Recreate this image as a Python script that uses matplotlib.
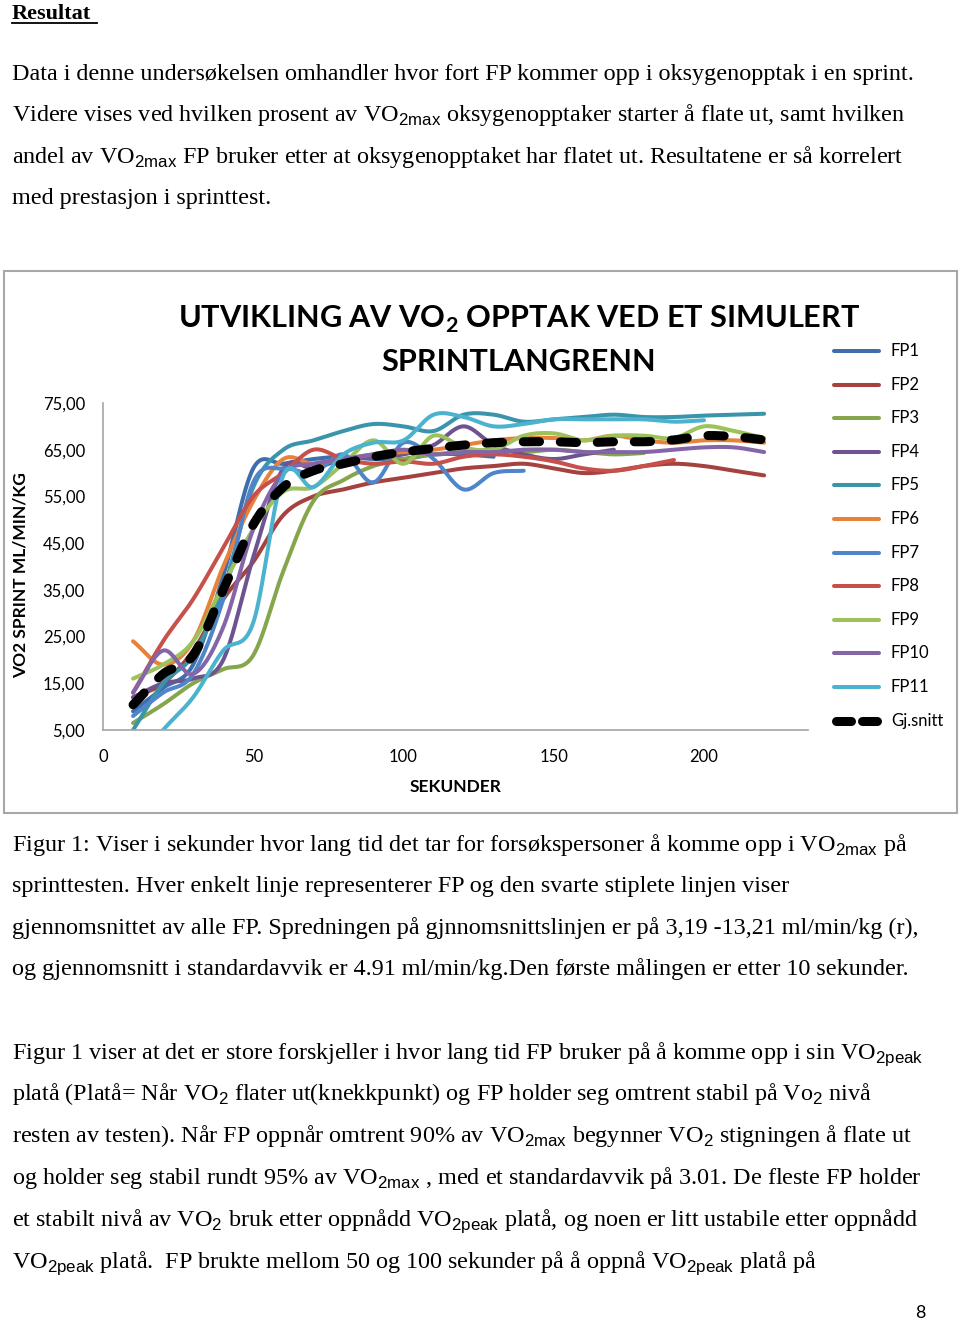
import numpy as np
import matplotlib
matplotlib.use("Agg")
import matplotlib.pyplot as plt
from matplotlib.lines import Line2D
from matplotlib.patches import Rectangle

plt.rcParams['mathtext.fontset'] = 'custom'
plt.rcParams['mathtext.rm'] = 'Liberation Sans'
plt.rcParams['mathtext.bf'] = 'Lato:bold'

# ---------------- data ----------------
labels = ["FP1", "FP2", "FP3", "FP4", "FP5", "FP6", "FP7", "FP8", "FP9", "FP10", "FP11"]
t_fp1 = [10, 20, 30, 40, 50, 60, 70, 80, 90, 100, 110, 120, 130]
fp1 = [9, 14, 19, 38, 61, 62, 63, 63.5, 63, 63, 64, 64, 63.5]
t_fp2 = [10, 20, 30, 40, 50, 60, 70, 80, 90, 100, 110, 120, 130, 140, 150, 160, 170, 180, 190, 200, 210, 220]
fp2 = [12, 15, 22, 33, 41, 51, 55, 56.5, 58, 59, 60, 61, 61.5, 62, 61, 60, 60.5, 61.5, 62, 61.5, 60.5, 59.5]
t_fp3 = [10, 20, 30, 40, 50, 60, 70, 80, 90, 100, 110, 120, 130, 140, 150, 160, 170, 180]
fp3 = [6.5, 10.5, 15, 18, 21, 39, 54, 58.5, 61.5, 63, 64, 64.5, 65, 64.5, 65, 64.5, 64, 64.3]
t_fp4 = [10, 20, 30, 40, 50, 60, 70, 80, 90, 100, 110, 120, 130, 140, 150, 160, 170]
fp4 = [12, 15, 16, 20, 42, 61, 61, 63, 63.5, 64, 66, 70, 66, 64, 63, 64, 65]
t_fp5 = [10, 20, 30, 40, 50, 60, 70, 80, 90, 100, 110, 120, 130, 140, 150, 160, 170, 180, 190, 200, 210, 220]
fp5 = [5, 15, 21, 35, 57, 65, 67, 69, 70.5, 70, 69, 72.5, 72.5, 71, 71.5, 72, 72.5, 72, 72, 72.3, 72.5, 72.7]
t_fp6 = [10, 20, 30, 40, 50, 60, 70, 80, 90, 100, 110, 120, 130, 140, 150, 160, 170, 180, 190, 200, 210, 220]
fp6 = [24, 19, 24, 40, 54, 63, 62, 63, 64, 64.5, 65, 66, 67, 67.5, 67.5, 67, 68, 67, 66.5, 67, 67, 66.5]
t_fp7 = [10, 20, 30, 40, 50, 60, 70, 80, 90, 100, 110, 120, 130, 140]
fp7 = [8, 13, 17, 33, 58, 61, 60, 64, 58, 66.5, 63, 56.5, 60, 60.5]
t_fp8 = [10, 20, 30, 40, 50, 60, 70, 80, 90, 100, 110, 120, 130, 140, 150, 160, 170, 180, 190]
fp8 = [13, 24, 33, 44, 55, 60, 65, 63, 62, 62.5, 62, 63.5, 64, 63.5, 62.5, 61, 60.5, 61.5, 62.8]
t_fp9 = [10, 20, 30, 40, 50, 60, 70, 80, 90, 100, 110, 120, 130, 140, 150, 160, 170, 180, 190, 200, 210, 220]
fp9 = [16, 19, 24, 36, 48, 56, 57, 62, 67, 62, 68, 65.5, 65, 68, 68.5, 67, 68, 68, 67.5, 70, 69, 67.5]
t_fp10 = [10, 20, 30, 40, 50, 60, 70, 80, 90, 100, 110, 120, 130, 140, 150, 160, 170, 180, 190, 200, 210, 220]
fp10 = [13, 22, 17, 27, 48, 60, 62, 63, 64, 65, 64, 64.5, 64.5, 65, 65, 64.5, 64.5, 64.5, 65, 65.5, 65.5, 64.5]
t_fp11 = [10, 20, 30, 40, 50, 60, 70, 80, 90, 100, 110, 120, 130, 140, 150, 160, 170, 180, 190, 200]
fp11 = [-3, 5, 12, 22, 28, 59.5, 57, 64, 66.5, 67, 72.5, 72, 70, 70.5, 71.5, 71.5, 71.5, 71.5, 71, 71.3]
t_mean = [10, 20, 30, 40, 50, 60, 70, 80, 90, 100, 110, 120, 130, 140, 150, 160, 170, 180, 190, 200, 210, 220]
mean = [10.4, 17, 21, 35, 49, 57, 60.5, 62, 63.5, 64.5, 65.3, 66, 66.5, 66.7, 66.7, 66.5, 66.7, 66.7, 67.1, 68, 67.8, 67.1]

series_t = [t_fp1, t_fp2, t_fp3, t_fp4, t_fp5, t_fp6, t_fp7, t_fp8, t_fp9, t_fp10, t_fp11]
series_y = [fp1, fp2, fp3, fp4, fp5, fp6, fp7, fp8, fp9, fp10, fp11]
colors = ['#3F6EAD', '#A5423F', '#86A64D', '#6D5490', '#3A95AB', '#E8813A',
          '#4F86C9', '#C8504B', '#9DC15B', '#8466A8', '#4BB3CF']
yticks = [5, 15, 25, 35, 45, 55, 65, 75]
xticks = [0, 50, 100, 150, 200]


def smooth(x, y, n=24):
    p = np.column_stack([np.asarray(x, float), np.asarray(y, float)])
    if len(p) < 3:
        return p[:, 0], p[:, 1]
    ext = np.vstack([2 * p[0] - p[1], p, 2 * p[-1] - p[-2]])
    out = []
    s = np.linspace(0, 1, n, endpoint=False)[:, None]
    for i in range(1, len(ext) - 2):
        p0, p1, p2, p3 = ext[i - 1], ext[i], ext[i + 1], ext[i + 2]
        seg = 0.5 * ((2 * p1) + (-p0 + p2) * s + (2 * p0 - 5 * p1 + 4 * p2 - p3) * s ** 2
                     + (-p0 + 3 * p1 - 3 * p2 + p3) * s ** 3)
        out.append(seg)
    out.append(p[-1][None, :])
    out = np.vstack(out)
    return out[:, 0], out[:, 1]


W, H = 960, 1324
fig = plt.figure(figsize=(W / 100, H / 100), dpi=100)
fig.patch.set_facecolor('white')


def fx(px):
    return px / W


def fy(py):
    return 1 - py / H


# ---------------- text above ----------------
serif = 'Liberation Serif'
t_res = fig.text(fx(12), fy(19), "Resultat", family=serif, fontsize=16, fontweight='bold', va='baseline')
fig.add_artist(Line2D([fx(12), fx(97)], [fy(23), fy(23)], color='black', lw=1.3))

top_lines = [
    "Data i denne undersøkelsen omhandler hvor fort FP kommer opp i oksygenopptak i en sprint.",
    r"Videre vises ved hvilken prosent av VO$_{\mathrm{2max}}$ oksygenopptaker starter å flate ut, samt hvilken",
    r"andel av VO$_{\mathrm{2max}}$ FP bruker etter at oksygenopptaket har flatet ut. Resultatene er så korrelert",
    "med prestasjon i sprinttest.",
]
top_base = [80, 121, 163, 204]

cap_lines = [
    r"Figur 1: Viser i sekunder hvor lang tid det tar for forsøkspersoner å komme opp i VO$_{\mathrm{2max}}$ på",
    "sprinttesten. Hver enkelt linje representerer FP og den svarte stiplete linjen viser",
    "gjennomsnittet av alle FP. Spredningen på gjnnomsnittslinjen er på 3,19 -13,21 ml/min/kg (r),",
    "og gjennomsnitt i standardavvik er 4.91 ml/min/kg.Den første målingen er etter 10 sekunder.",
]
cap_base = [851, 892, 934, 975]

body_lines = [
    r"Figur 1 viser at det er store forskjeller i hvor lang tid FP bruker på å komme opp i sin VO$_{\mathrm{2peak}}$",
    r"platå (Platå= Når VO$_{\mathrm{2}}$ flater ut(knekkpunkt) og FP holder seg omtrent stabil på Vo$_{\mathrm{2}}$ nivå",
    r"resten av testen). Når FP oppnår omtrent 90% av VO$_{\mathrm{2max}}$ begynner VO$_{\mathrm{2}}$ stigningen å flate ut",
    r"og holder seg stabil rundt 95% av VO$_{\mathrm{2max}}$ , med et standardavvik på 3.01. De fleste FP holder",
    r"et stabilt nivå av VO$_{\mathrm{2}}$ bruk etter oppnådd VO$_{\mathrm{2peak}}$ platå, og noen er litt ustabile etter oppnådd",
    r"VO$_{\mathrm{2peak}}$ platå.  FP brukte mellom 50 og 100 sekunder på å oppnå VO$_{\mathrm{2peak}}$ platå på",
]
body_base = [1059, 1100, 1142, 1184, 1226, 1268]

renderer = fig.canvas.get_renderer()
probe = fig.text(fx(12), fy(80), top_lines[0], family=serif, fontsize=16, va='baseline')
wprobe = probe.get_window_extent(renderer).width
body_fs = 16 * 901 / wprobe
probe.remove()

for lines, bases in [(top_lines, top_base), (cap_lines, cap_base), (body_lines, body_base)]:
    for s, b in zip(lines, bases):
        fig.text(fx(12), fy(b), s, family=serif, fontsize=body_fs, va='baseline')

fig.text(fx(920), fy(1313), "8", family='Lato', fontsize=13, ha='center', va='center')

# ---------------- chart frame ----------------
fig.add_artist(Rectangle((fx(4), fy(813)), fx(957) - fx(4), fy(271) - fy(813),
                         transform=fig.transFigure, fill=False, edgecolor='#A8A8A8', lw=1.5))

ax = fig.add_axes([fx(103), fy(730), fx(808) - fx(103), fy(403) - fy(730)])
ax.set_xlim(0, 234.6)
ax.set_ylim(5, 75)
ax.set_facecolor('none')
for side in ['top', 'right']:
    ax.spines[side].set_visible(False)
for side in ['left', 'bottom']:
    ax.spines[side].set_color('#A6A6A6')
    ax.spines[side].set_linewidth(1.2)

for tt, yy, c, lab in zip(series_t, series_y, colors, labels):
    sx, sy = smooth(tt, yy)
    ax.plot(sx, sy, color=c, lw=2.9, solid_capstyle='round', solid_joinstyle='round', label=lab)

mx, my = smooth(t_mean, mean)
ml, = ax.plot(mx, my, color='black', lw=6.5, dash_capstyle='round', label='Gj.snitt')
ml.set_dashes((1.8, 2.3))

ax.set_yticks(yticks)
ax.set_yticklabels([f"{v:.2f}".replace('.', ',') for v in yticks])
ax.set_xticks(xticks)
ax.set_xticklabels([str(v) for v in xticks])
ax.tick_params(axis='both', length=0, labelsize=12, colors='black')
ax.tick_params(axis='y', pad=13)
ax.tick_params(axis='x', pad=14)
for lab in ax.get_xticklabels() + ax.get_yticklabels():
    lab.set_family('Lato')

fig.text(fx(456), fy(787), "SEKUNDER", family='Lato', fontweight='bold', fontsize=12.5,
         ha='center', va='center')
fig.text(fx(21), fy(575), "VO2 SPRINT ML/MIN/KG", family='Lato', fontweight='bold', fontsize=12.5,
         ha='center', va='center', rotation=90)

title1 = fig.text(fx(519), fy(328), r"UTVIKLING AV VO$_{\mathbf{2}}$ OPPTAK VED ET SIMULERT",
                  family='Lato', fontweight='bold', fontsize=28, ha='center', va='baseline')
w1 = title1.get_window_extent(renderer).width
tfs = 28 * 682 / w1
title1.set_fontsize(tfs)
fig.text(fx(519), fy(371), "SPRINTLANGRENN", family='Lato', fontweight='bold', fontsize=tfs,
         ha='center', va='baseline')

# ---------------- legend ----------------
for i, (c, lab) in enumerate(zip(colors + ['black'], labels + ['Gj.snitt'])):
    yy = 351 + i * 33.6
    if lab == 'Gj.snitt':
        for a, b in [(836, 851), (862, 877)]:
            fig.add_artist(Line2D([fx(a), fx(b)], [fy(yy), fy(yy)], color=c, lw=6.5,
                                  solid_capstyle='round'))
    else:
        fig.add_artist(Line2D([fx(834), fx(879)], [fy(yy), fy(yy)], color=c, lw=2.9,
                              solid_capstyle='round'))
    fig.text(fx(891), fy(yy), lab, family='Lato', fontsize=12, va='center')

fig.savefig("out.png", dpi=100)
